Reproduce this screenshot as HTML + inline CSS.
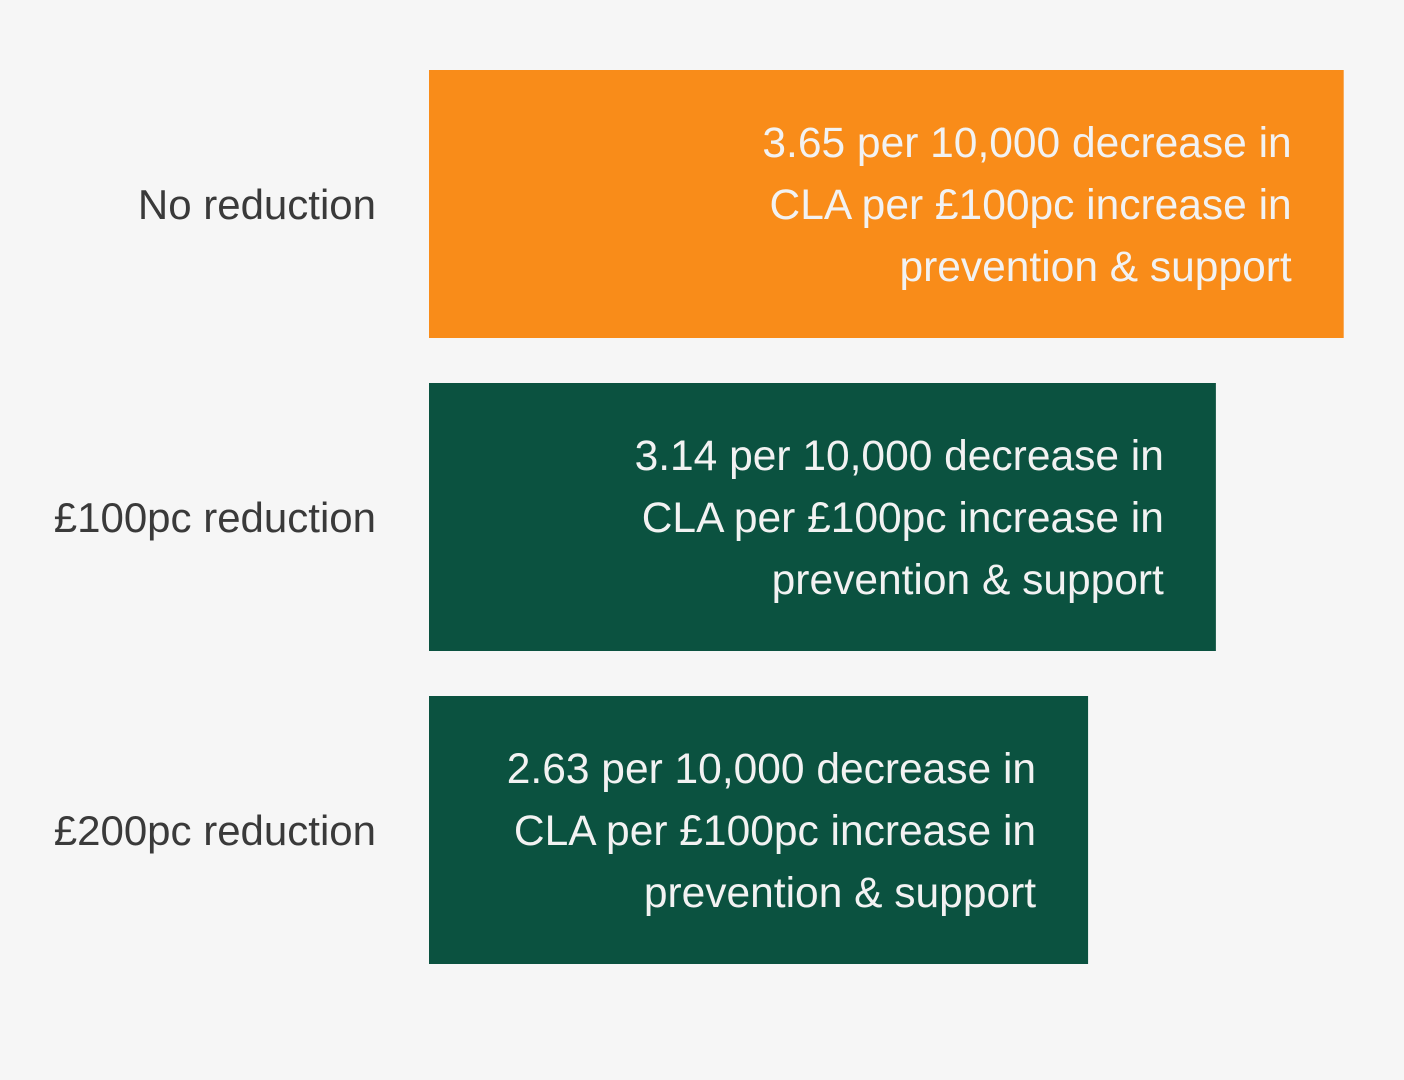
<!DOCTYPE html>
<html><head><meta charset="utf-8"><style>
body{margin:0;background:#f6f6f6;font-family:"Liberation Sans",sans-serif;}
svg{display:block}
</style></head><body>
<svg id="chart" width="1404" height="1080" xmlns="http://www.w3.org/2000/svg">
<rect width="1404" height="1080" fill="#f6f6f6"/>
</svg>
<script>
const categories = ["No reduction", "£100pc reduction", "£200pc reduction"];
const values = [3.65, 3.14, 2.63];
const colors = ["#f98c19", "#0b5240", "#0b5240"];
const x0 = 429, scale = 250.6, top0 = 70, step = 313, barH = 268;
const xs = v => x0 + v * scale;
const svg = document.getElementById('chart');
const NS = "http://www.w3.org/2000/svg";
categories.forEach((c, i) => {
  const y = top0 + i * step;
  const r = document.createElementNS(NS, 'rect');
  
  
  r.setAttribute('x', x0); r.setAttribute('y', y);
  r.setAttribute('width', xs(values[i]) - x0); r.setAttribute('height', barH);
  r.setAttribute('fill', colors[i]);
  svg.appendChild(r);
  const l = document.createElementNS(NS, 'text');
  
  
  l.setAttribute('x', 376); l.setAttribute('y', y + 135 + 14);
  l.setAttribute('text-anchor', 'end'); l.setAttribute('font-size', '42');
  l.setAttribute('fill', '#3a3a3a');
  l.textContent = c;
  svg.appendChild(l);
  const lines = [values[i].toFixed(2) + " per 10,000 decrease in", "CLA per £100pc increase in", "prevention & support"];
  lines.forEach((t, j) => {
    const tx = document.createElementNS(NS, 'text');
    
    
    tx.setAttribute('x', xs(values[i]) - 52);
    tx.setAttribute('y', y + 73 + 14 + j * 62);
    tx.setAttribute('text-anchor', 'end'); tx.setAttribute('font-size', '42.5');
    tx.setAttribute('fill', '#f2f2f2');
    tx.textContent = t;
    svg.appendChild(tx);
  });
});
</script>
</body></html>
